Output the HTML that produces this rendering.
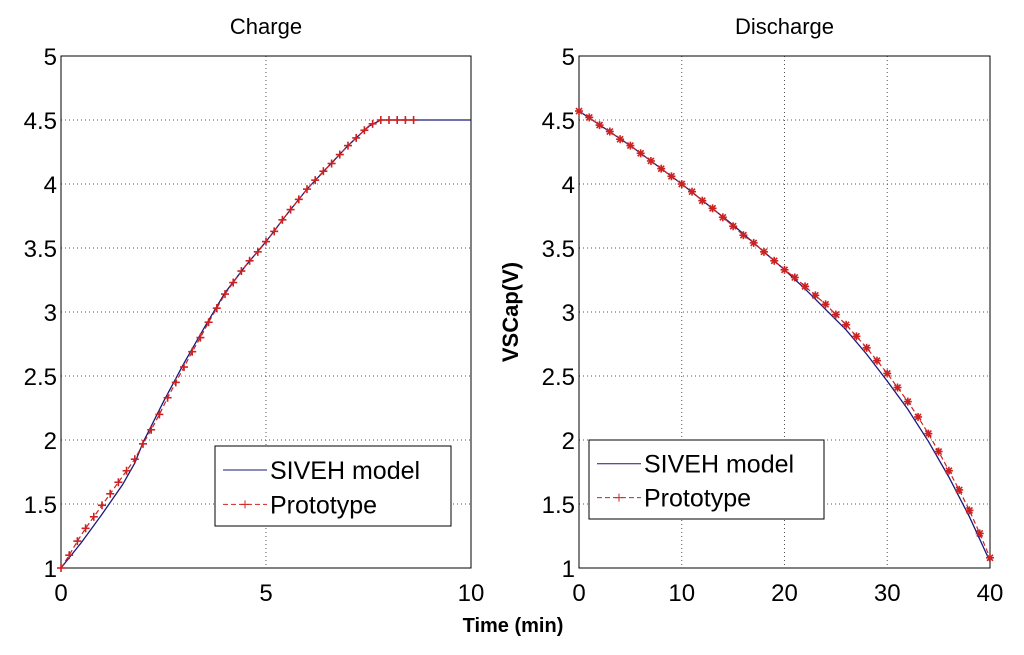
<!DOCTYPE html>
<html><head><meta charset="utf-8"><style>
body{margin:0;background:#fff;width:1024px;height:650px;overflow:hidden}
svg{font-family:"Liberation Sans",Arial,sans-serif}
</style></head><body>
<svg id="c" width="1024" height="650"></svg>
<script>
const chargeModelT=[0,0.5,1,1.5,1.8,2,2.5,3,3.5,4,4.5,5,5.5,6,6.5,7,7.5,7.8,8.5,10];
const chargeModelV=[1,1.2,1.42,1.65,1.82,1.98,2.3,2.6,2.88,3.15,3.36,3.55,3.76,3.96,4.13,4.3,4.45,4.5,4.5,4.5];
const chargeProtoT=[0,0.2,0.4,0.6,0.8,1,1.2,1.4,1.6,1.8,2,2.2,2.4,2.6,2.8,3,3.2,3.4,3.6,3.8,4,4.2,4.4,4.6,4.8,5,5.2,5.4,5.6,5.8,6,6.2,6.4,6.6,6.8,7,7.2,7.4,7.6,7.8,8,8.2,8.4,8.6];
const chargeProtoV=[1,1.1,1.21,1.31,1.4,1.49,1.58,1.67,1.76,1.85,1.97,2.08,2.2,2.33,2.45,2.57,2.69,2.8,2.92,3.03,3.14,3.23,3.32,3.4,3.47,3.55,3.63,3.72,3.8,3.88,3.96,4.03,4.1,4.16,4.23,4.3,4.36,4.42,4.47,4.5,4.5,4.5,4.5,4.5];
const dischModelT=[0,5,10,15,20,22,24,26,28,30,32,34,36,38,40];
const dischModelV=[4.57,4.3,4.0,3.68,3.33,3.18,3.02,2.86,2.67,2.46,2.24,1.99,1.71,1.4,1.05];
const dischProtoT=[0,1,2,3,4,5,6,7,8,9,10,11,12,13,14,15,16,17,18,19,20,21,22,23,24,25,26,27,28,29,30,31,32,33,34,35,36,37,38,39,40];
const dischProtoV=[4.57,4.52,4.46,4.41,4.35,4.3,4.24,4.18,4.12,4.06,4.0,3.94,3.87,3.81,3.74,3.67,3.6,3.54,3.47,3.4,3.33,3.27,3.2,3.13,3.06,2.98,2.9,2.81,2.72,2.62,2.52,2.41,2.3,2.18,2.05,1.91,1.76,1.61,1.45,1.27,1.08];
const xTicksL=[0,5,10],xTicksR=[0,10,20,30,40],yTicks=[1,1.5,2,2.5,3,3.5,4,4.5,5];
const NS="http://www.w3.org/2000/svg",svg=document.getElementById('c');
function mk(t,a,p){const e=document.createElementNS(NS,t);for(const k in a)e.setAttribute(k,a[k]);(p||svg).appendChild(e);return e;}
function panel(name,x0,x1,xmax,xt,title,mT,mV,pT,pV,marker,leg){
 const y0=568,y1=56;
 const sx=v=>x0+(x1-x0)*v/xmax, sy=v=>y0-(y0-y1)*(v-1)/4;
 const g=mk('g',{});
 
 
 mk('rect',{x:x0,y:y1,width:x1-x0,height:y0-y1,fill:'#fff',stroke:'none'},g);
 xt.forEach(v=>{if(v>0&&v<xmax){const l=mk('line',{x1:sx(v),x2:sx(v),y1:y1,y2:y0,stroke:'#555','stroke-dasharray':'1,3'},g);}
  const t=mk('text',{x:sx(v),y:601,'font-size':24,'text-anchor':'middle'},g);t.textContent=v;});
 yTicks.forEach(v=>{if(v>1&&v<5){const l=mk('line',{x1:x0,x2:x1,y1:sy(v),y2:sy(v),stroke:'#555','stroke-dasharray':'1,3'},g);}
  const t=mk('text',{x:x0-4,y:sy(v)+9,'font-size':24,'text-anchor':'end'},g);t.textContent=v;});
 mk('rect',{x:x0,y:y1,width:x1-x0,height:y0-y1,fill:'none',stroke:'#000','stroke-width':1},g);
 const tt=mk('text',{x:(x0+x1)/2,y:34,'font-size':22,'text-anchor':'middle'},g);tt.textContent=title;
 const pm=mk('polyline',{points:mT.map((t,i)=>sx(t)+','+sy(mV[i])).join(' '),fill:'none',stroke:'#1a1a7a','stroke-width':1.3},g);
 
 const pp=mk('polyline',{points:pT.map((t,i)=>sx(t)+','+sy(pV[i])).join(' '),fill:'none',stroke:'#c22','stroke-width':1.2,'stroke-dasharray':'5,3'},g);
 
 pT.forEach((t,i)=>{const cx=sx(t),cy=sy(pV[i]);const m=mk('g',{stroke:'#c22','stroke-width':1.6},g);
  
  mk('line',{x1:cx-4,x2:cx+4,y1:cy,y2:cy},m);mk('line',{x1:cx,x2:cx,y1:cy-4,y2:cy+4},m);
  if(marker==='*'){mk('line',{x1:cx-3,x2:cx+3,y1:cy-3,y2:cy+3},m);mk('line',{x1:cx-3,x2:cx+3,y1:cy+3,y2:cy-3},m);}});
 const L=mk('g',{},g);
 mk('rect',{x:leg[0],y:leg[1],width:leg[2],height:leg[3],fill:'#fff',stroke:'#000'},L);
 const ly1=leg[1]+leg[3]*0.3,ly2=leg[1]+leg[3]*0.73;
 mk('line',{x1:leg[0]+8,x2:leg[0]+52,y1:ly1,y2:ly1,stroke:'#1a1a7a'},L);
 mk('line',{x1:leg[0]+8,x2:leg[0]+52,y1:ly2,y2:ly2,stroke:'#c22','stroke-dasharray':'5,3'},L);
 const mx=leg[0]+30;mk('line',{x1:mx-4,x2:mx+4,y1:ly2,y2:ly2,stroke:'#c22'},L);mk('line',{x1:mx,x2:mx,y1:ly2-4,y2:ly2+4,stroke:'#c22'},L);
 const a=mk('text',{x:leg[0]+55,y:ly1+9,'font-size':25},L);a.textContent='SIVEH model';
 const b=mk('text',{x:leg[0]+55,y:ly2+9,'font-size':25},L);b.textContent='Prototype';
}
panel('charge-panel',61,471,10,xTicksL,'Charge',chargeModelT,chargeModelV,chargeProtoT,chargeProtoV,'+',[215,446,236,80]);
panel('discharge-panel',579,990,40,xTicksR,'Discharge',dischModelT,dischModelV,dischProtoT,dischProtoV,'*',[589,440,235,79]);
const xl=mk('text',{x:513,y:632,'font-size':20,'font-weight':'bold','text-anchor':'middle'});xl.textContent='Time (min)';


const yl=mk('text',{x:0,y:0,'font-size':22,'font-weight':'bold','text-anchor':'middle',transform:'translate(518,312) rotate(-90)'});yl.textContent='VSCap(V)';


</script>
</body></html>
